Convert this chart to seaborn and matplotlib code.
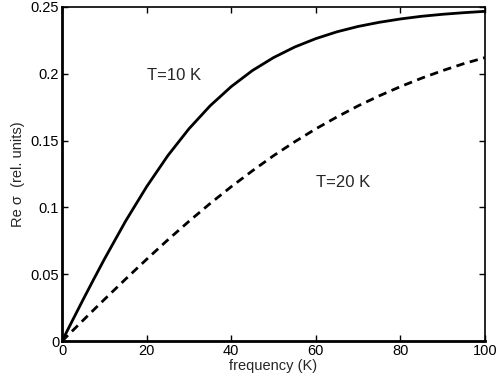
import matplotlib
matplotlib.use("Agg")
import matplotlib.pyplot as plt
import seaborn as sns
import pandas as pd

freq = [0, 2.5, 5, 7.5, 10, 15, 20, 25, 30, 35, 40, 45, 50, 55, 60, 65, 70, 75, 80, 85, 90, 95, 100]
sigma_T10 = [0.0, 0.0156, 0.0311, 0.0463, 0.0612, 0.0896, 0.1155, 0.1387, 0.1588, 0.1760, 0.1904, 0.2024,
             0.2121, 0.2200, 0.2263, 0.2314, 0.2354, 0.2385, 0.2410, 0.2430, 0.2445, 0.2457, 0.2467]
sigma_T20 = [0.0, 0.0078, 0.0156, 0.0234, 0.0311, 0.0463, 0.0612, 0.0757, 0.0896, 0.1029, 0.1155, 0.1274,
             0.1387, 0.1491, 0.1588, 0.1677, 0.1760, 0.1835, 0.1904, 0.1967, 0.2024, 0.2076, 0.2121]
xticks = [0, 20, 40, 60, 80, 100]
yticks = [0, 0.05, 0.1, 0.15, 0.2, 0.25]
ytick_labels = ["0", "0.05", "0.1", "0.15", "0.2", "0.25"]

sns.set_style("ticks")
plt.rcParams['font.family'] = ['Liberation Sans', 'DejaVu Sans']

df = pd.DataFrame({
    "freq": freq * 2,
    "sigma": sigma_T10 + sigma_T20,
    "T": ["T=10 K"] * len(freq) + ["T=20 K"] * len(freq),
})

fig = plt.figure(figsize=(4.98, 3.85), dpi=100)
ax = fig.add_axes([0.1245, 0.114, 0.8495, 0.868])

sns.lineplot(data=df, x="freq", y="sigma", hue="T", style="T",
             palette=["black", "black"], dashes=[(None, None), (3, 2)],
             linewidth=2, legend=False, ax=ax)

ax.set_xlim(0, 100)
ax.set_ylim(0, 0.25)
ax.set_xticks(xticks)
ax.set_xticklabels([str(v) for v in xticks])
ax.set_yticks(yticks)
ax.set_yticklabels(ytick_labels)
ax.tick_params(direction="in", top=True, right=True, length=4, width=1,
               labelsize=10.5, pad=2, colors="black")
for side in ["top", "right"]:
    ax.spines[side].set_visible(True)
    ax.spines[side].set_linewidth(1.2)
for side in ["left", "bottom"]:
    ax.spines[side].set_linewidth(2)
for s in ax.spines.values():
    s.set_color("black")

ax.set_xlabel("frequency (K)", fontsize=10.5, labelpad=1)
ax.set_ylabel("Re σ  (rel. units)", fontsize=10.5, labelpad=4)

ax.text(20, 0.199, "T=10 K", fontsize=12, ha="left", va="center")
ax.text(60, 0.119, "T=20 K", fontsize=12, ha="left", va="center")

fig.savefig("out.png", dpi=100)
